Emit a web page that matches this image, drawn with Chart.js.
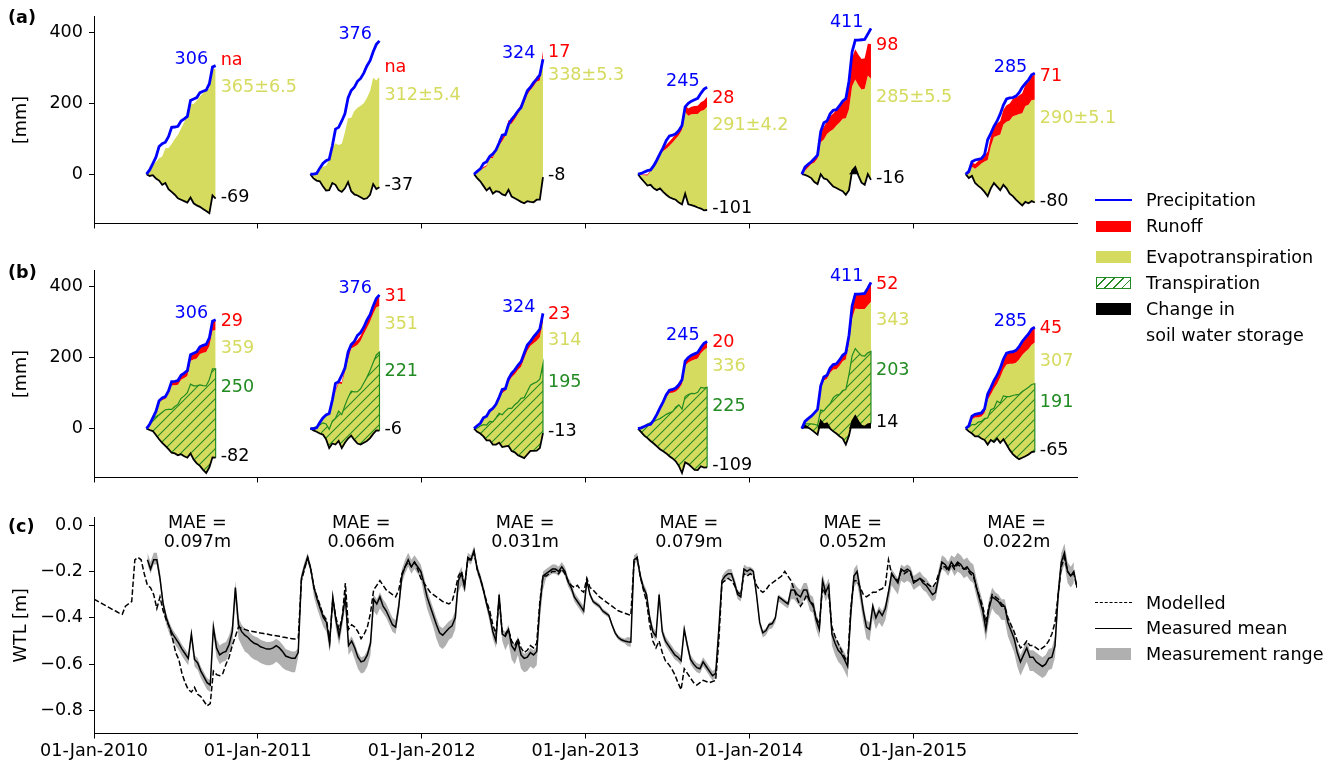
<!DOCTYPE html>
<html>
<head>
<meta charset="utf-8">
<script src="https://cdn.jsdelivr.net/npm/chart.js@4.4.1/dist/chart.umd.min.js"></script>
<style>
  html, body { margin: 0; padding: 0; background: #fff; }
  body { width: 1330px; height: 765px; position: relative; overflow: hidden;
         font-family: 'DejaVu Sans', sans-serif; color: #000; }
  canvas { position: absolute; left: 0; }
  .txt { position: absolute; font-size: 17.6px; line-height: 20px; height: 20px; white-space: nowrap; }
  .panel { position: absolute; font-size: 17.6px; font-weight: bold; line-height: 20px; }
  .h { position: absolute; }
</style>
</head>
<body>
<canvas id="ca" width="1330" height="240" style="top:0px"></canvas>
<canvas id="cb" width="1330" height="240" style="top:254px"></canvas>
<canvas id="cc" width="1330" height="265" style="top:500px"></canvas>

<div class="panel" style="left:8px;top:7px">(a)</div>
<div class="panel" style="left:8px;top:262px">(b)</div>
<div class="panel" style="left:8px;top:516px">(c)</div>

<!-- water balance legend -->
<div class="h" style="left:1095px;top:199px;width:37px;height:0;border-top:2.8px solid #0000ff"></div>
<div class="txt" style="left:1146px;top:190px">Precipitation</div>
<div class="h" style="left:1096px;top:221px;width:35px;height:11px;background:#ff0000"></div>
<div class="txt" style="left:1146px;top:216px">Runoff</div>
<div class="h" style="left:1096px;top:251px;width:35px;height:12px;background:#d5db5e"></div>
<div class="txt" style="left:1146px;top:247px">Evapotranspiration</div>
<div class="h" style="left:1096px;top:277px;width:33px;height:10px;border:1px solid #228b22;
     background:repeating-linear-gradient(-45deg, rgba(255,255,255,0) 0px, rgba(255,255,255,0) 5px, #228b22 5px, #228b22 6.3px)"></div>
<div class="txt" style="left:1146px;top:273px">Transpiration</div>
<div class="h" style="left:1096px;top:303px;width:35px;height:12px;background:#000"></div>
<div class="txt" style="left:1146px;top:299px">Change in</div>
<div class="txt" style="left:1146px;top:325px">soil water storage</div>

<!-- water table legend -->
<div class="h" style="left:1095px;top:602px;width:37px;height:0;border-top:1.5px dashed #000"></div>
<div class="txt" style="left:1146px;top:593px">Modelled</div>
<div class="h" style="left:1095px;top:628px;width:37px;height:0;border-top:1.5px solid #000"></div>
<div class="txt" style="left:1146px;top:618px">Measured mean</div>
<div class="h" style="left:1096px;top:648px;width:35px;height:12px;background:#b0b0b0"></div>
<div class="txt" style="left:1146px;top:644px">Measurement range</div>

<script>
// ---------------------------------------------------------------------------
// Growing-season water balance (cumulative, mm) – weekly values, day of year
// ---------------------------------------------------------------------------
const YEARS = [2010, 2011, 2012, 2013, 2014, 2015];
const seasonDays = [117,124,131,138,145,152,159,166,173,180,187,194,201,208,215,222,229,236,243,250,257,264,271];

// cumulative precipitation
const precip = [
  [0,12,30,48,78,86,90,106,132,133,135,150,156,163,208,212,216,230,234,237,255,302,306],
  [0,0,2,17,30,38,42,80,127,132,150,170,215,236,245,262,270,285,305,320,345,366,376],
  [0,8,15,30,35,50,57,68,88,110,112,140,155,165,178,188,212,235,245,258,268,280,324],
  [0,2,6,10,12,24,40,58,75,95,108,110,114,123,137,190,200,206,210,214,228,240,245],
  [0,20,28,35,44,54,120,145,150,170,180,182,193,206,213,262,345,378,378,379,380,395,411],
  [0,8,35,40,42,44,55,97,115,135,150,170,195,212,215,216,220,230,245,256,266,280,285]
];

// (a) measured: change in soil water storage, evapotranspiration, runoff
const storageA = [
  [0,-5,-3,-12,-18,-30,-25,-42,-50,-58,-68,-72,-76,-80,-66,-82,-88,-92,-98,-104,-110,-60,-69],
  [0,-12,-18,-20,-34,-46,-45,-25,-30,-45,-50,-40,-22,-48,-57,-60,-65,-70,-68,-58,-28,-42,-37],
  [0,-11,-20,-33,-46,-38,-55,-48,-50,-57,-60,-44,-63,-68,-73,-78,-82,-76,-78,-79,-72,-72,-8],
  [0,-12,-22,-32,-30,-40,-45,-40,-50,-58,-65,-69,-72,-80,-85,-55,-85,-87,-90,-94,-97,-102,-101],
  [0,-2,-6,-11,-22,-28,0,-12,-15,-25,-35,-39,-44,-48,-58,-45,10,20,-4,-24,-30,0,-16],
  [0,-11,-5,-25,-33,-40,-50,-62,-40,-25,-35,-45,-30,-40,-55,-62,-72,-80,-88,-78,-82,-76,-80]
];
const etA = [
  [0,15,30,46,63,80,98,116,135,157,179,201,223,245,263,280,296,311,327,342,351,359,365],
  [0,12,26,40,55,70,85,101,117,127,136,158,180,207,235,247,258,270,283,292,300,306,312],
  [0,16,32,50,68,84,100,116,132,150,168,186,205,223,243,263,284,300,315,327,333,336,338],
  [0,10,19,28,38,58,76,96,115,130,145,158,172,190,210,230,250,256,260,264,275,283,291],
  [0,12,25,40,55,72,90,110,128,146,162,176,190,204,216,228,238,247,255,263,271,278,285],
  [0,12,26,40,55,70,86,102,118,130,143,157,170,188,206,225,238,250,260,270,278,285,290]
];
const etErrA = [6.5, 5.4, 5.3, 4.2, 5.5, 5.1];
const runoffA = [
  null,
  null,
  [0,1,2,3,3,4,5,6,8,9,9,10,10,11,11,12,12,13,13,14,14,15,17],
  [0,1,2,3,3,4,6,7,9,11,12,13,14,15,17,19,20,21,22,23,25,27,28],
  [0,6,8,9,10,10,28,35,36,42,44,44,45,48,50,62,80,85,86,86,86,90,98],
  [0,3,12,14,15,15,16,24,28,32,35,38,42,46,48,49,50,52,56,60,64,68,71]
];

// (b) modelled: storage, evapotranspiration, runoff, transpiration
const storageB = [
  [0,-4,-7,-18,-30,-40,-49,-58,-68,-70,-75,-72,-78,-82,-70,-87,-98,-105,-116,-125,-109,-81,-82],
  [0,-5,-9,-14,-17,-30,-55,-42,-45,-35,-55,-40,-28,-20,-32,-42,-45,-40,-35,-27,-15,-5,-6],
  [0,-9,-14,-22,-33,-33,-45,-45,-40,-52,-50,-49,-63,-67,-75,-79,-83,-73,-63,-63,-62,-55,-13],
  [0,-10,-20,-27,-35,-42,-50,-58,-64,-70,-78,-84,-92,-105,-125,-95,-100,-108,-116,-117,-106,-110,-109],
  [0,8,3,-3,-10,-17,22,12,15,0,-8,-14,-22,-28,-45,-20,20,35,20,8,5,12,14],
  [0,-8,-14,-22,-22,-28,-32,-45,-32,-38,-28,-40,-30,-45,-60,-72,-80,-86,-82,-78,-73,-66,-65]
];
const etB = [
  [0,15,35,63,103,120,132,156,190,192,198,209,220,230,261,281,295,315,329,340,341,356,359],
  [0,6,14,30,47,70,92,120,150,162,180,200,222,245,262,278,292,306,318,328,338,346,351],
  [0,16,27,50,65,79,97,107,121,152,156,179,207,220,240,253,280,292,296,303,309,312,314],
  [0,11,24,35,44,63,86,111,133,158,178,185,196,217,250,272,286,299,310,314,318,331,336],
  [0,11,23,36,51,68,90,123,125,157,174,181,199,217,240,260,290,303,316,328,331,335,343],
  [0,14,41,53,54,62,76,126,128,151,154,184,196,225,242,254,265,280,289,294,297,302,307]
];
const runoffB = [
  [0,1,2,3,5,6,7,8,10,11,12,13,14,15,17,18,19,20,21,22,23,27,29],
  [0,0,0,0,0,1,1,2,4,5,6,8,10,11,12,13,14,15,17,19,22,27,31],
  [0,1,2,2,3,4,5,6,7,8,9,10,11,12,13,14,15,16,17,18,19,20,23],
  [0,1,2,2,3,3,4,5,6,7,8,9,10,11,12,13,14,15,16,17,18,19,20],
  [0,1,2,2,3,3,8,10,12,13,14,15,16,17,18,22,35,40,42,43,44,48,52],
  [0,2,8,9,10,10,11,16,19,22,24,26,29,32,33,34,35,36,38,40,42,44,45]
];
const transpB = [
  [0,16,33,51,69,86,102,112,122,132,143,157,170,183,195,207,218,228,237,245,247,249,250],
  [0,7,15,24,33,43,53,63,74,84,94,105,115,125,135,146,157,168,179,190,201,212,221],
  [0,10,21,33,43,53,64,75,83,91,99,106,120,134,149,164,170,177,185,190,193,194,195],
  [0,10,26,40,52,62,74,86,98,110,122,132,152,172,180,185,196,207,214,219,222,224,225],
  [0,5,10,16,22,26,30,38,46,70,95,108,118,135,155,172,185,190,194,197,199,201,203],
  [0,12,25,33,40,48,60,75,85,95,105,112,122,135,150,165,175,182,186,188,189,190,191]
];

// ---------------------------------------------------------------------------
// Water table level (m), weekly from 01-Jan-2010
// ---------------------------------------------------------------------------
const wtlMeasured = [
  null,null,null,null,null,null,null,null,null,null,
  null,null,null,null,null,null,null,-0.15,-0.19,-0.15,
  -0.15,-0.23,-0.34,-0.40,-0.44,-0.47,-0.49,-0.51,-0.535,-0.555,
  -0.575,-0.47,-0.58,-0.595,-0.63,-0.655,-0.68,-0.69,-0.44,-0.53,
  -0.56,-0.55,-0.545,-0.515,-0.46,-0.27,-0.43,-0.46,-0.475,-0.485,
  -0.50,-0.51,-0.515,-0.525,-0.53,-0.535,-0.535,-0.53,-0.52,-0.53,
  -0.545,-0.565,-0.57,-0.575,-0.575,-0.55,-0.23,-0.18,-0.14,-0.19,
  -0.27,-0.32,-0.36,-0.40,-0.42,-0.51,-0.31,-0.41,-0.48,-0.40,
  -0.31,-0.52,-0.50,-0.53,-0.57,-0.59,-0.585,-0.56,-0.51,-0.32,
  -0.34,-0.31,-0.35,-0.37,-0.40,-0.43,-0.44,-0.35,-0.22,-0.18,
  -0.15,-0.18,-0.16,-0.18,-0.20,-0.25,-0.31,-0.35,-0.39,-0.43,
  -0.465,-0.475,-0.46,-0.445,-0.435,-0.40,-0.24,-0.21,-0.27,-0.14,
  -0.15,-0.11,-0.19,-0.23,-0.28,-0.34,-0.39,-0.46,-0.50,-0.30,
  -0.47,-0.48,-0.45,-0.52,-0.54,-0.50,-0.56,-0.575,-0.57,-0.55,
  -0.56,-0.545,-0.35,-0.22,-0.21,-0.20,-0.19,-0.19,-0.20,-0.18,
  -0.20,-0.245,-0.27,-0.31,-0.33,-0.35,-0.37,-0.24,-0.30,-0.33,
  -0.34,-0.35,-0.37,-0.38,-0.39,-0.43,-0.465,-0.485,-0.495,-0.50,
  -0.503,-0.505,-0.15,-0.14,-0.22,-0.27,-0.30,-0.40,-0.46,-0.48,
  -0.30,-0.46,-0.50,-0.52,-0.54,-0.56,-0.57,-0.585,-0.45,-0.52,
  -0.58,-0.60,-0.615,-0.62,-0.59,-0.61,-0.63,-0.65,-0.64,-0.45,
  -0.24,-0.22,-0.21,-0.21,-0.25,-0.30,-0.31,-0.19,-0.20,-0.19,
  -0.20,-0.30,-0.42,-0.465,-0.455,-0.43,-0.425,-0.40,-0.31,-0.32,
  -0.33,-0.34,-0.28,-0.28,-0.30,-0.31,-0.28,-0.28,-0.33,-0.34,
  -0.41,-0.45,-0.24,-0.29,-0.26,-0.47,-0.51,-0.54,-0.555,-0.58,
  -0.61,-0.38,-0.22,-0.20,-0.28,-0.37,-0.44,-0.45,-0.35,-0.40,
  -0.37,-0.39,-0.36,-0.29,-0.21,-0.23,-0.25,-0.19,-0.20,-0.19,
  -0.20,-0.25,-0.24,-0.23,-0.25,-0.26,-0.28,-0.30,-0.29,-0.22,
  -0.16,-0.17,-0.19,-0.16,-0.18,-0.16,-0.17,-0.19,-0.18,-0.20,
  -0.21,-0.27,-0.32,-0.37,-0.45,-0.36,-0.31,-0.32,-0.33,-0.35,
  -0.35,-0.42,-0.455,-0.49,-0.55,-0.59,-0.56,-0.53,-0.57,-0.57,
  -0.59,-0.60,-0.61,-0.60,-0.575,-0.57,-0.52,-0.30,-0.16,-0.12,
  -0.20,-0.22,-0.20,-0.27
];
const wtlModelled = [
  -0.32,-0.327,-0.335,-0.342,-0.35,-0.357,-0.365,-0.372,-0.38,-0.385,
  -0.35,-0.34,-0.33,-0.15,-0.14,-0.15,-0.21,-0.26,-0.27,-0.30,
  -0.36,-0.31,-0.37,-0.41,-0.44,-0.49,-0.55,-0.58,-0.64,-0.68,
  -0.71,-0.72,-0.70,-0.73,-0.74,-0.76,-0.78,-0.77,-0.63,-0.645,
  -0.65,-0.64,-0.60,-0.57,-0.52,-0.48,-0.44,-0.445,-0.45,-0.455,
  -0.458,-0.46,-0.463,-0.466,-0.468,-0.47,-0.473,-0.476,-0.478,-0.48,
  -0.483,-0.485,-0.488,-0.49,-0.492,-0.49,-0.24,-0.19,-0.14,-0.19,
  -0.27,-0.31,-0.35,-0.39,-0.41,-0.50,-0.32,-0.40,-0.45,-0.40,
  -0.25,-0.45,-0.43,-0.44,-0.46,-0.49,-0.47,-0.44,-0.38,-0.28,
  -0.26,-0.24,-0.26,-0.28,-0.29,-0.30,-0.31,-0.28,-0.21,-0.18,
  -0.16,-0.18,-0.16,-0.19,-0.23,-0.25,-0.27,-0.29,-0.30,-0.31,
  -0.32,-0.33,-0.335,-0.34,-0.33,-0.28,-0.22,-0.20,-0.26,-0.15,
  -0.15,-0.12,-0.19,-0.23,-0.28,-0.33,-0.37,-0.43,-0.47,-0.32,
  -0.46,-0.47,-0.45,-0.50,-0.52,-0.49,-0.53,-0.55,-0.54,-0.52,
  -0.53,-0.51,-0.33,-0.22,-0.22,-0.21,-0.20,-0.20,-0.21,-0.19,
  -0.21,-0.24,-0.26,-0.27,-0.26,-0.28,-0.29,-0.23,-0.27,-0.28,
  -0.295,-0.31,-0.32,-0.33,-0.34,-0.35,-0.36,-0.37,-0.375,-0.38,
  -0.385,-0.39,-0.16,-0.14,-0.22,-0.28,-0.33,-0.43,-0.50,-0.53,
  -0.50,-0.55,-0.585,-0.60,-0.62,-0.645,-0.68,-0.71,-0.62,-0.64,
  -0.66,-0.68,-0.69,-0.68,-0.67,-0.675,-0.68,-0.675,-0.67,-0.50,
  -0.25,-0.24,-0.23,-0.24,-0.26,-0.29,-0.30,-0.21,-0.22,-0.21,
  -0.22,-0.26,-0.28,-0.29,-0.28,-0.26,-0.25,-0.24,-0.23,-0.22,
  -0.20,-0.22,-0.24,-0.28,-0.32,-0.35,-0.33,-0.30,-0.33,-0.35,
  -0.40,-0.43,-0.27,-0.30,-0.30,-0.44,-0.48,-0.51,-0.54,-0.57,
  -0.59,-0.36,-0.24,-0.24,-0.27,-0.30,-0.31,-0.30,-0.29,-0.29,
  -0.28,-0.275,-0.26,-0.15,-0.21,-0.23,-0.24,-0.20,-0.21,-0.20,
  -0.21,-0.24,-0.24,-0.23,-0.24,-0.25,-0.26,-0.27,-0.25,-0.21,
  -0.18,-0.18,-0.20,-0.17,-0.19,-0.17,-0.18,-0.19,-0.19,-0.21,
  -0.22,-0.27,-0.31,-0.35,-0.42,-0.35,-0.30,-0.31,-0.32,-0.34,
  -0.35,-0.40,-0.43,-0.46,-0.50,-0.53,-0.52,-0.50,-0.52,-0.52,
  -0.53,-0.54,-0.53,-0.52,-0.50,-0.47,-0.42,-0.30,-0.18,-0.14,
  -0.20,-0.22,-0.21,-0.27
];
// spread of the individual wells around the mean, by calendar month (m)
const rangeAbove = [
  null,null,null,0.03,0.03,0.02,0.02,0.02,0.02,0.04,0.03,0.03,
  0.03,0.03,0.03,0.02,0.02,0.02,0.02,0.02,0.02,0.03,0.03,0.03,
  0.03,0.03,0.03,0.02,0.02,0.02,0.02,0.02,0.02,0.02,0.02,0.02,
  0.01,0.01,0.01,0.02,0.02,0.02,0.02,0.02,0.02,0.02,0.02,0.02,
  0.01,0.01,0.01,0.03,0.03,0.03,0.03,0.03,0.03,0.02,0.02,0.02,
  0.03,0.03,0.03,0.04,0.04,0.04,0.03,0.03,0.03,0.04,0.04,0.04
];
const rangeBelow = [
  null,null,null,0.02,0.02,0.03,0.03,0.03,0.03,0.04,0.06,0.07,
  0.07,0.07,0.06,0.02,0.04,0.04,0.04,0.05,0.05,0.03,0.03,0.03,
  0.05,0.06,0.05,0.02,0.02,0.03,0.06,0.06,0.06,0.02,0.02,0.02,
  0.01,0.01,0.01,0.02,0.02,0.02,0.02,0.02,0.02,0.02,0.02,0.02,
  0.02,0.02,0.02,0.04,0.04,0.04,0.05,0.05,0.05,0.05,0.05,0.05,
  0.03,0.03,0.03,0.04,0.04,0.05,0.06,0.06,0.06,0.05,0.05,0.05
];
const maeValues = [0.097, 0.066, 0.031, 0.079, 0.052, 0.022];

// ---------------------------------------------------------------------------
const COL = { precip: '#0000ff', runoff: '#ff0000', et: '#d5db5e', transp: '#228b22',
              storage: '#000000', range: '#b0b0b0' };
const FONT = '17.6px "DejaVu Sans"';
const NONE = 'rgba(0,0,0,0)';
const DAY = 86400000;
const PAD_RIGHT = 1330 - 1077;

Chart.defaults.font.family = "'DejaVu Sans', sans-serif";
Chart.defaults.font.size = 17.6;
Chart.defaults.color = '#000';

function decYear(year, day) {
  const n = (year % 4 === 0) ? 366 : 365;
  return year + day / n;
}
function msToDecYear(ms) {
  const d = new Date(ms), y = d.getUTCFullYear();
  const a = Date.UTC(y, 0, 1), b = Date.UTC(y + 1, 0, 1);
  return y + (ms - a) / (b - a);
}

const axisLine = { display: true, color: '#000', width: 1 };
const tickMarks = { display: true, drawOnChartArea: false, drawTicks: true, tickLength: 5, color: '#000', lineWidth: 1 };

function xScale(showLabels, height) {
  return {
    type: 'linear', min: 2010, max: 2016,
    afterBuildTicks: s => { s.ticks = YEARS.map(v => ({ value: v })); },
    afterFit: s => { s.height = height; },
    ticks: { display: showLabels, autoSkip: false, maxRotation: 0, minRotation: 0, padding: 2,
             callback: v => '01-Jan-' + v },
    grid: tickMarks, border: axisLine
  };
}
function yScale(min, max, ticks, fmt, title) {
  return {
    type: 'linear', min, max,
    afterBuildTicks: s => { s.ticks = ticks.map(v => ({ value: v })); },
    afterFit: s => { s.width = 94; },
    ticks: { padding: 6, callback: fmt },
    grid: tickMarks, border: axisLine,
    title: { display: true, text: title, padding: { top: 11, bottom: 0 } }
  };
}

function hatch(canvas, color) {
  const tile = document.createElement('canvas');
  tile.width = 10; tile.height = 10;
  const g = tile.getContext('2d');
  g.strokeStyle = color; g.lineWidth = 1.1;
  g.beginPath();
  g.moveTo(-1, 11); g.lineTo(11, -1);
  g.moveTo(-6, 6); g.lineTo(6, -6);
  g.moveTo(4, 16); g.lineTo(16, 4);
  g.stroke();
  return canvas.getContext('2d').createPattern(tile, 'repeat');
}

// Stacked cumulative water balance: storage line is the base, ET and runoff
// stacked on it, transpiration hatched from storage upward, storage gains in black.
function balance(storage, et, runoff, transp, etErr, pattern) {
  const datasets = [], labels = [];
  YEARS.forEach((yr, i) => {
    const xs = seasonDays.map(d => decYear(yr, d));
    const pts = arr => arr.map((v, k) => ({ x: xs[k], y: v }));
    const S = storage[i], E = et[i], R = runoff[i], T = transp ? transp[i] : null;
    const last = xs.length - 1;
    const etTop = S.map((s, k) => s + E[k]);
    const base = datasets.length;
    datasets.push({ data: pts(precip[i]), borderColor: COL.precip, borderWidth: 2.8, fill: false });
    datasets.push({ data: pts(S), borderColor: COL.storage, borderWidth: 1.8, fill: false });
    if (S.some(v => v > 0)) {
      datasets.push({ data: pts(S.map(v => Math.max(v, 0))), borderColor: NONE, borderWidth: 0,
                      backgroundColor: '#000', fill: 'origin' });
    }
    let tTop = null;
    if (T) {
      tTop = S.map((s, k) => s + T[k]);
      const d = pts(tTop);
      d.push({ x: xs[last], y: S[last] });
      datasets.push({ data: d, borderColor: COL.transp, borderWidth: 1.2, backgroundColor: pattern, fill: base + 1 });
    }
    let rTop = null;
    const etIndex = datasets.length + (R ? 1 : 0);
    if (R) {
      rTop = etTop.map((v, k) => v + R[k]);
      datasets.push({ data: pts(rTop), borderColor: NONE, borderWidth: 0, backgroundColor: COL.runoff, fill: etIndex });
    }
    datasets.push({ data: pts(etTop), borderColor: NONE, borderWidth: 0, backgroundColor: COL.et, fill: base + 1 });

    labels.push({
      x: xs[last],
      p: precip[i][last],
      r: R ? R[last] : null, rTop: R ? rTop[last] : null,
      et: E[last], etTop: etTop[last], err: etErr ? etErr[i] : null,
      t: T ? T[last] : null, tTop: T ? tTop[last] : null,
      s: S[last]
    });
  });
  return { datasets, labels };
}

function labelPlugin(items) {
  return {
    id: 'balanceLabels',
    afterDatasetsDraw(chart) {
      const { ctx, scales: { x, y } } = chart;
      ctx.save();
      ctx.font = FONT;
      ctx.textBaseline = 'middle';
      items.forEach(it => {
        const px = x.getPixelForValue(it.x);
        ctx.textAlign = 'right';
        ctx.fillStyle = COL.precip;
        ctx.fillText(String(it.p), px - 7.5, y.getPixelForValue(it.p) - 6);
        ctx.textAlign = 'left';
        ctx.fillStyle = COL.runoff;
        if (it.r === null) ctx.fillText('na', px + 5, y.getPixelForValue(it.etTop) - 9);
        else ctx.fillText(String(it.r), px + 5, y.getPixelForValue(it.rTop) + 1.5);
        ctx.fillStyle = COL.et;
        const etText = it.err !== null ? it.et + '\u00b1' + it.err.toFixed(1) : String(it.et);
        ctx.fillText(etText, px + 5, y.getPixelForValue(it.etTop) + 18.7);
        if (it.t !== null) {
          ctx.fillStyle = COL.transp;
          ctx.fillText(String(it.t), px + 5, y.getPixelForValue(it.tTop) + 19);
        }
        ctx.fillStyle = '#000';
        ctx.fillText(String(it.s), px + 5, y.getPixelForValue(it.s) - 1.5);
      });
      ctx.restore();
    }
  };
}

const lineDefaults = { tension: 0, pointRadius: 0, pointHoverRadius: 0, pointHitRadius: 0 };
const baseOptions = (padTop, xs, ys) => ({
  responsive: false, animation: false, events: [],
  layout: { padding: { top: padTop, right: PAD_RIGHT, left: 0, bottom: 0 } },
  elements: { line: { tension: 0 }, point: { radius: 0 } },
  plugins: { legend: { display: false }, tooltip: { enabled: false } },
  scales: { x: xs, y: ys }
});

// (a) measured water balance
const A = balance(storageA, etA, runoffA, null, etErrA, null);
new Chart(document.getElementById('ca'), {
  type: 'line',
  data: { datasets: A.datasets.map(d => Object.assign({}, lineDefaults, d)) },
  options: baseOptions(15, xScale(false, 15),
    yScale(-138.9, 444.4, [0, 200, 400], v => String(v), '[mm]')),
  plugins: [labelPlugin(A.labels)]
});

// (b) modelled water balance
const cbEl = document.getElementById('cb');
const B = balance(storageB, etB, runoffB, transpB, null, hatch(cbEl, COL.transp));
new Chart(cbEl, {
  type: 'line',
  data: { datasets: B.datasets.map(d => Object.assign({}, lineDefaults, d)) },
  options: baseOptions(15, xScale(false, 15.5),
    yScale(-137.5, 444.4, [0, 200, 400], v => String(v), '[mm]')),
  plugins: [labelPlugin(B.labels)]
});

// (c) water table level
const t0 = Date.UTC(2010, 0, 1);
const weekMs = wtlModelled.map((_, i) => t0 + i * 7 * DAY);
const weekX = weekMs.map(msToDecYear);
const monthOf = ms => { const d = new Date(ms); return (d.getUTCFullYear() - 2010) * 12 + d.getUTCMonth(); };
const rangeHigh = wtlMeasured.map((v, i) => v === null ? null : v + rangeAbove[monthOf(weekMs[i])]);
const rangeLow = wtlMeasured.map((v, i) => v === null ? null : v - rangeBelow[monthOf(weekMs[i])]);
const series = arr => arr.map((v, i) => ({ x: weekX[i], y: v }));

const maePlugin = {
  id: 'maeLabels',
  afterDatasetsDraw(chart) {
    const { ctx, scales: { x }, chartArea } = chart;
    ctx.save();
    ctx.font = FONT;
    ctx.fillStyle = '#000';
    ctx.textAlign = 'center';
    ctx.textBaseline = 'middle';
    YEARS.forEach((yr, i) => {
      const px = x.getPixelForValue(yr + 0.631);
      ctx.fillText('MAE =', px, chartArea.top + 6);
      ctx.fillText(maeValues[i].toFixed(3) + 'm', px, chartArea.top + 25);
    });
    ctx.restore();
  }
};

const fmtWtl = v => Math.abs(v) < 1e-9 ? '0.0' : (v < 0 ? '\u2212' : '') + Math.abs(v).toFixed(1);
new Chart(document.getElementById('cc'), {
  type: 'line',
  data: {
    datasets: [
      Object.assign({}, lineDefaults, { data: series(wtlModelled), borderColor: '#000', borderWidth: 1.5,
        borderDash: [5.5, 2.4], fill: false }),
      Object.assign({}, lineDefaults, { data: series(wtlMeasured), borderColor: '#000', borderWidth: 1.5, fill: false }),
      Object.assign({}, lineDefaults, { data: series(rangeHigh), borderColor: NONE, borderWidth: 0,
        backgroundColor: COL.range, fill: 3 }),
      Object.assign({}, lineDefaults, { data: series(rangeLow), borderColor: NONE, borderWidth: 0, fill: false })
    ]
  },
  options: baseOptions(17, xScale(true, 31.5),
    yScale(-0.899, 0.0345, [-0.8, -0.6, -0.4, -0.2, 0], fmtWtl, 'WTL [m]')),
  plugins: [maePlugin]
});
</script>
</body>
</html>
